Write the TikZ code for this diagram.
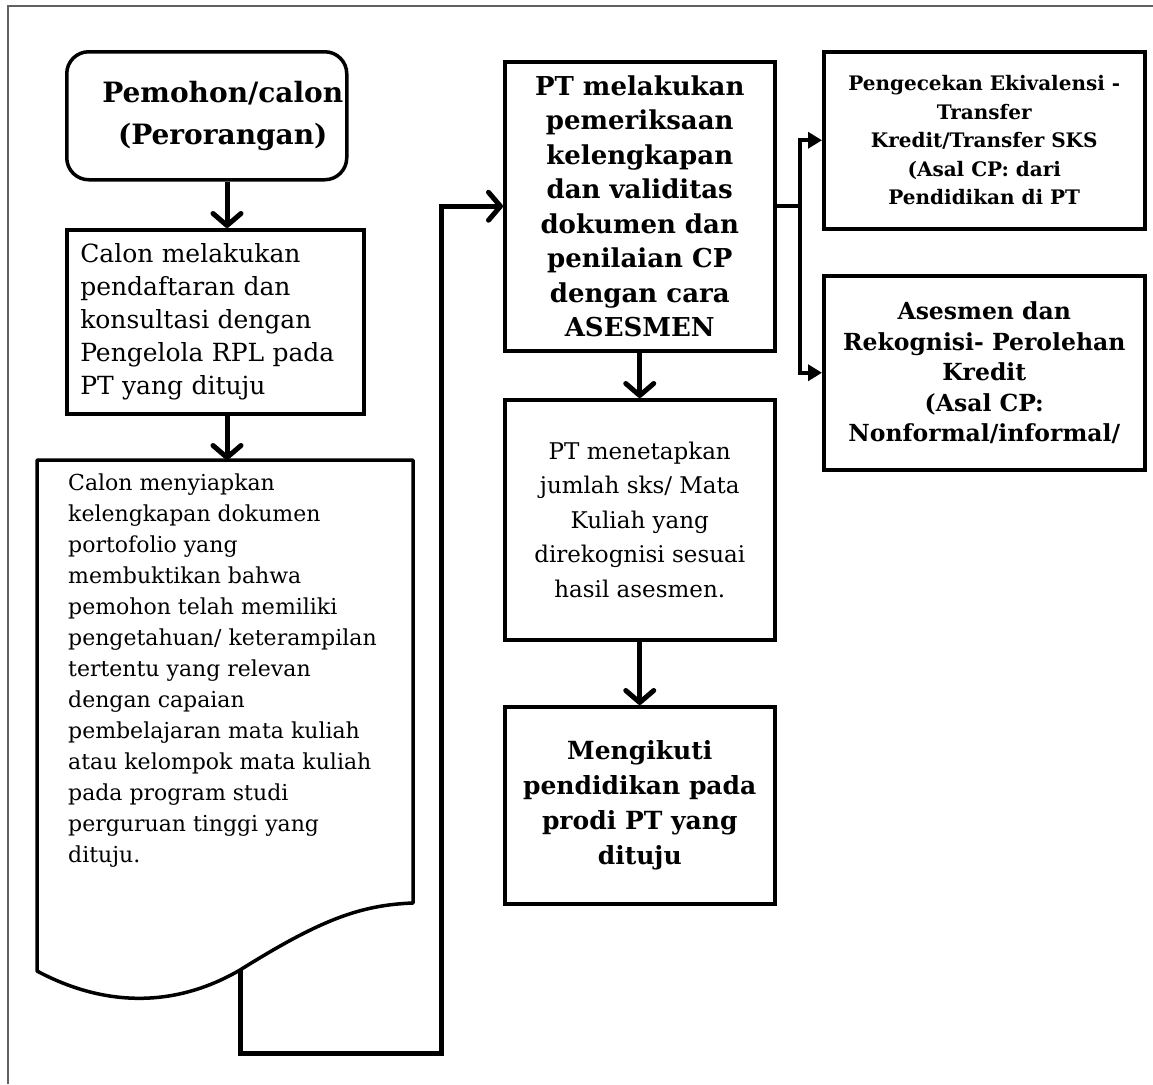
\documentclass[tikz,border=0pt]{standalone}
\usepackage{fontspec}
\setmainfont{DejaVu Serif}
\usetikzlibrary{arrows.meta}

\begin{document}
\begin{tikzpicture}[x=1pt, y=-1pt,
	box/.style={draw, line width=3.5pt, anchor=north west, inner sep=0pt, align=center},
	flow/.style={line width=5pt, -{Straight Barb[length=12pt, width=28pt, line width=5pt, round]}},
	branch/.style={line width=4pt, -{Triangle[length=14pt, width=16pt]}}]
			%%%%% START %%%%%
			
			\useasboundingbox (0, 0) rectangle (1153, 1084);
			\draw[line width=2pt, color=black!62] (8, 1084) -- (8, 6) -- (1153, 6);
			
			\node[box, rounded corners=22pt, minimum width=280pt, minimum height=128pt] (pemohon) at (65, 50) {};
			\node[align=center, font=\fontsize{28}{42}\selectfont\bfseries] (pemohonteks)
				at ([xshift=16pt]pemohon.center) {Pemohon/calon\\(Perorangan)};
			
			\node[box, minimum width=297pt, minimum height=184pt, text width=270pt, align=left,
				font=\fontsize{25}{33}\selectfont] (daftar) at (65, 228)
				{Calon melakukan\\pendaftaran dan\\konsultasi dengan\\Pengelola RPL pada\\PT yang dituju};
			
			% dokumen portofolio
			\coordinate (dok) at (37, 460);
			\coordinate (gel) at (240, 970);
			\draw[line width=3.5pt, line join=round] (413, 903) -- (413, 460) -- (dok) -- (37, 971)
				.. controls (110, 1010) and (180, 1005) .. (gel)
				.. controls (320, 920) and (360, 905) .. (413, 903) -- cycle;
			\node[anchor=north west, inner sep=0pt, align=left, font=\fontsize{22}{31}\selectfont]
				(portofolio) at (68, 474)
				{Calon menyiapkan\\kelengkapan dokumen\\portofolio yang\\membuktikan bahwa\\pemohon telah memiliki\\pengetahuan/ keterampilan\\tertentu yang relevan\\dengan capaian\\pembelajaran mata kuliah\\atau kelompok mata kuliah\\pada program studi\\perguruan tinggi yang\\dituju.};
			
			\node[box, minimum width=270pt, minimum height=289pt,
				font=\fontsize{26}{34.5}\selectfont\bfseries] (periksa) at (503, 60)
				{PT melakukan\\pemeriksaan\\kelengkapan\\dan validitas\\dokumen dan\\penilaian CP\\dengan cara\\ASESMEN};
			
			\node[box, minimum width=270pt, minimum height=240pt,
				font=\fontsize{23}{34.5}\selectfont] (tetapkan) at (503, 398)
				{PT menetapkan\\jumlah sks/ Mata\\Kuliah yang\\direkognisi sesuai\\hasil asesmen.};
			
			\node[box, minimum width=270pt, minimum height=197pt,
				font=\fontsize{25}{35}\selectfont\bfseries] (ikuti) at (503, 705)
				{Mengikuti\\pendidikan pada\\prodi PT yang\\dituju};
			
			\node[box, minimum width=321pt, minimum height=177pt,
				font=\fontsize{20}{28.5}\selectfont\bfseries] (transfer) at (822, 50)
				{Pengecekan Ekivalensi -\\Transfer\\Kredit/Transfer SKS\\(Asal CP: dari\\Pendidikan di PT};
			
			\node[box, minimum width=321pt, minimum height=194pt,
				font=\fontsize{23.5}{30.5}\selectfont\bfseries] (rekognisi) at (822, 274)
				{Asesmen dan\\Rekognisi- Perolehan\\Kredit\\(Asal CP:\\Nonformal/informal/};
			
			% alur
			\coordinate (sumbu) at (227, 0);
			\draw[flow] (pemohon.south -| sumbu) -- (daftar.north -| sumbu);
			\draw[flow] (daftar.south -| sumbu) -- (dok -| sumbu);
			\coordinate (belok) at (441, 1053);
			\draw[flow] (gel) |- (belok) |- (periksa.west);
			\draw[flow] (periksa) -- (tetapkan);
			\draw[flow] (tetapkan) -- (ikuti);
			
			\draw[line width=4pt] (periksa.east) -- ++(23, 0) coordinate (cabang);
			\draw[branch] (cabang) |- (transfer.west);
			\draw[branch] (cabang) |- (rekognisi.west);
			
			%%%%% END %%%%%
\end{tikzpicture}
\end{document}
